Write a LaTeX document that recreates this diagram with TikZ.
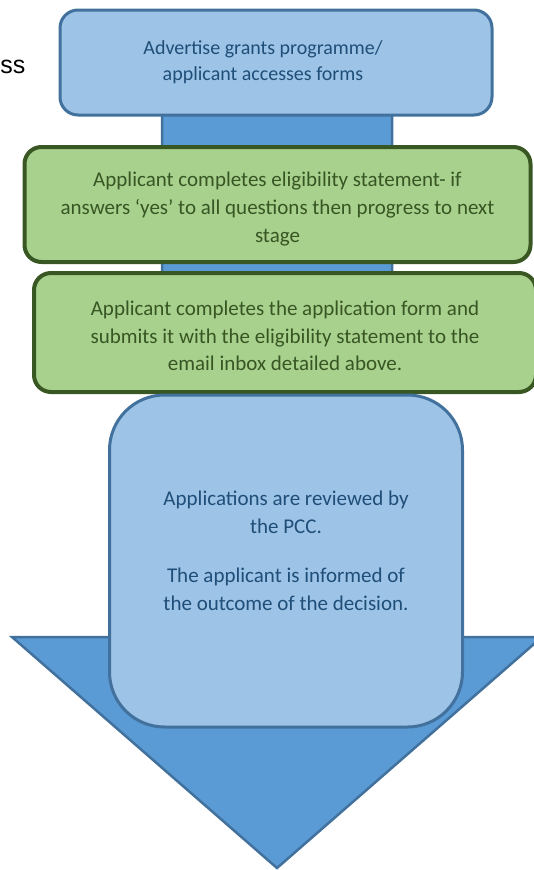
\documentclass[tikz,border=0pt]{standalone}
\usepackage{fontspec}
\setmainfont{Carlito}
\newfontfamily\arialfont{Liberation Sans}
\definecolor{boxblue}{HTML}{9DC3E6}
\definecolor{arrowblue}{HTML}{5B9BD5}
\definecolor{edgeblue}{HTML}{41719C}
\definecolor{textblue}{HTML}{1F4E79}
\definecolor{boxgreen}{HTML}{A9D18E}
\definecolor{edgegreen}{HTML}{385723}
\definecolor{textgreen}{HTML}{375623}
\tikzset{
  bluebox/.style={draw=edgeblue, fill=boxblue, line width=3pt, rounded corners=18pt, inner sep=0pt},
  greenbox/.style={draw=edgegreen, fill=boxgreen, line width=4pt, rounded corners=17pt, inner sep=0pt},
  bluetext/.style={text=textblue, align=center, inner sep=0pt},
  greentext/.style={text=textgreen, align=center, inner sep=0pt, font=\fontsize{21}{28}\selectfont},
}
\begin{document}
\begin{tikzpicture}[x=1pt,y=-1pt]
\useasboundingbox (0,0) rectangle (533,870);
% big down arrow
\draw[draw=edgeblue, fill=arrowblue, line width=2.5pt, line join=miter]
  (162,30) -- (392,30) -- (392,637) -- (542,637) -- (277,868) -- (12,637) -- (162,637) -- cycle;
% partial text at left
\node[anchor=base east, inner sep=0pt, font=\arialfont\fontsize{25}{28}\selectfont] (ss) at (25.5,73) {ss};
% top box
\node[bluebox, minimum width=432pt, minimum height=105pt] (top) at (276,62.5) {};
\node[bluetext, font=\fontsize{20}{26.5}\selectfont] (toptext) at (263,62)
  {Advertise grants programme/\\applicant accesses forms};
% green boxes
\node[greenbox, minimum width=506pt, minimum height=115pt] (elig) at (277.5,204.5) {};
\node[greentext] (eligtext) at (277.5,209.5)
  {Applicant completes eligibility statement- if\\answers ‘yes’ to all questions then progress to next\\stage};
\node[greenbox, minimum width=502pt, minimum height=119pt] (form) at (285,332.5) {};
\node[greentext, font=\fontsize{21}{27.5}\selectfont] (formtext) at (285,336)
  {Applicant completes the application form and\\submits it with the eligibility statement to the\\email inbox detailed above.};
% big review box
\node[bluebox, rounded corners=55pt, minimum width=353pt, minimum height=332pt] (review) at (286,561) {};
\node[bluetext, font=\fontsize{21}{27.5}\selectfont] (reviewtext) at (286,551)
  {Applications are reviewed by\\the PCC.\\[22pt]The applicant is informed of\\the outcome of the decision.};
\end{tikzpicture}
\end{document}
